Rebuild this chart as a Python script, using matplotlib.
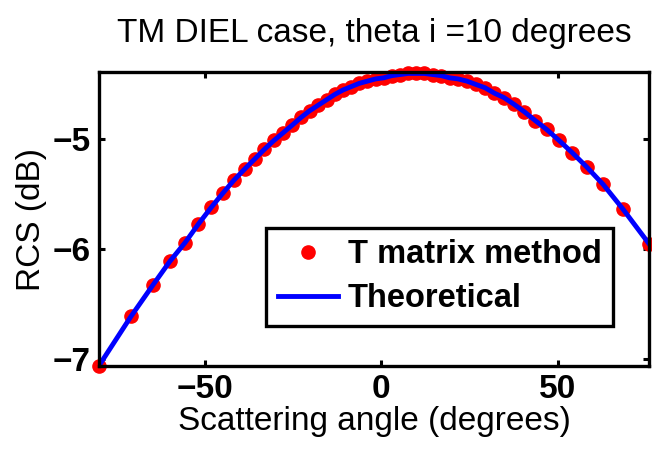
import matplotlib
matplotlib.use("Agg")
import matplotlib.pyplot as plt

# scattering angles (degrees)
angulo = [-80.0, -70.9, -64.8, -59.9, -55.6, -51.8, -48.2, -44.9, -41.7, -38.7,
          -35.9, -33.1, -30.4, -27.8, -25.2, -22.7, -20.3, -17.9, -15.5, -13.1,
          -10.8, -8.5, -6.2, -3.9, -1.6, 0.7, 3.0, 5.3, 7.6, 9.9,
          12.2, 14.6, 17.0, 19.4, 21.8, 24.3, 26.8, 29.4, 32.1, 34.8,
          37.6, 40.6, 43.7, 46.9, 50.4, 54.1, 58.2, 62.9, 68.4, 75.9]

# RCS (dB), T matrix method
rcs_t = [-7.06, -6.61, -6.33, -6.11, -5.94, -5.77, -5.62, -5.49, -5.37, -5.27,
         -5.18, -5.09, -5.01, -4.94, -4.87, -4.80, -4.74, -4.69, -4.64, -4.59,
         -4.55, -4.52, -4.49, -4.47, -4.45, -4.44, -4.42, -4.41, -4.40, -4.40,
         -4.40, -4.41, -4.42, -4.44, -4.45, -4.47, -4.50, -4.53, -4.58, -4.62,
         -4.68, -4.75, -4.83, -4.91, -5.01, -5.12, -5.25, -5.41, -5.63, -5.95]

# RCS (dB), theoretical curve
rcs_teo = list(rcs_t)

xticks = [-50, 0, 50]
yticks = [-7, -6, -5]

plt.rcParams["font.family"] = ["Liberation Sans", "DejaVu Sans"]

fig = plt.figure(figsize=(6.52, 4.49), dpi=100)
ax = fig.add_axes([0.1518, 0.1855, 0.8436, 0.6534])

ax.plot(angulo, rcs_t, "o", color="red", markersize=9.5, clip_on=False,
        zorder=3, label="T matrix method")
ax.plot(angulo, rcs_teo, "-", color="blue", linewidth=3.5, zorder=4,
        label="Theoretical")

ax.set_xlim(min(angulo), max(angulo))
ax.set_ylim(min(rcs_t), -4.39)
ax.set_xticks(xticks)
ax.set_yticks(yticks)
ax.tick_params(direction="in", length=4, width=2.2, top=True, right=True,
               labelsize=24, pad=6)
for lab in ax.get_xticklabels() + ax.get_yticklabels():
    lab.set_fontweight("bold")
for s in ax.spines.values():
    s.set_linewidth(2.4)
    s.set_zorder(5)

ax.set_title("TM DIEL case, theta i =10 degrees", fontsize=24, pad=22)
ax.set_xlabel("Scattering angle (degrees)", fontsize=24, labelpad=1)
ax.set_ylabel("RCS (dB)", fontsize=24, labelpad=4)

leg = ax.legend(loc="upper right", bbox_to_anchor=(0.935, 0.47),
                prop={"weight": "bold", "size": 23.5}, fancybox=False,
                framealpha=1, edgecolor="black", borderpad=0.35,
                handlelength=1.85, handletextpad=0.3, labelspacing=0.4,
                borderaxespad=0)
leg.get_frame().set_linewidth(2.4)
leg.set_zorder(6)

fig.savefig("out.png", dpi=100)
